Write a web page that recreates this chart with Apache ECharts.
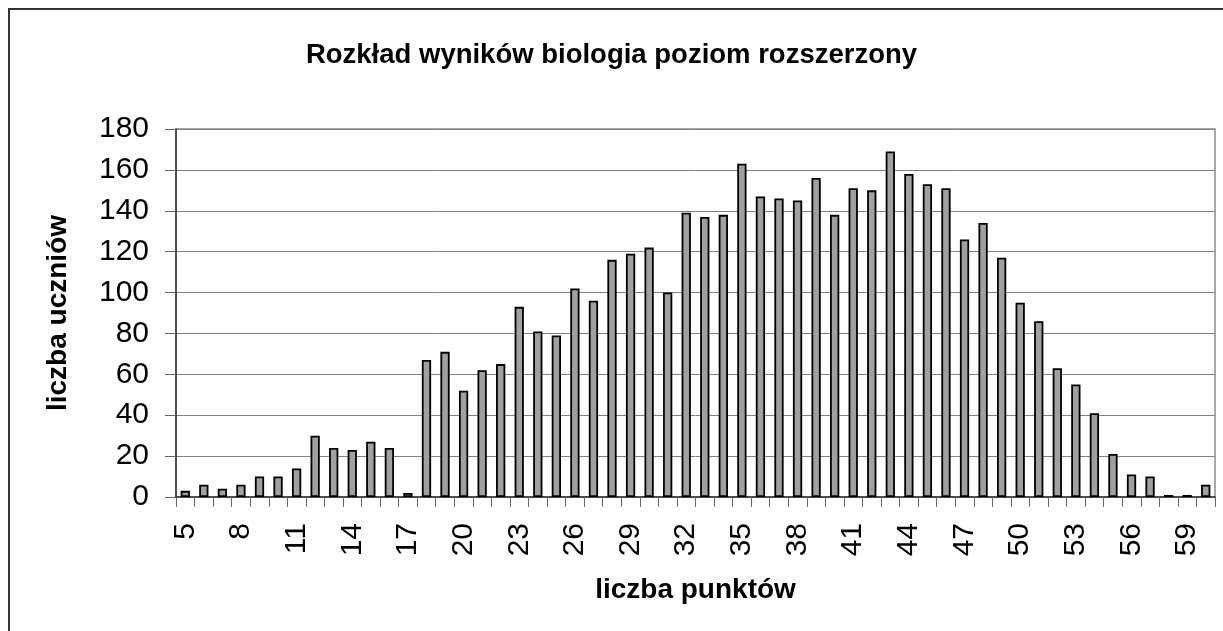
<!DOCTYPE html>
<html>
<head>
<meta charset="utf-8">
<script src="https://cdn.jsdelivr.net/npm/echarts@6/dist/echarts.min.js"></script>
<style>
  html, body { margin: 0; padding: 0; background: #fff; }
  #chart { width: 1223px; height: 631px; }
</style>
</head>
<body>
<div id="chart"></div>
<script>
// score points 5..60
const points = [
  5, 6, 7, 8, 9, 10, 11, 12, 13, 14, 15, 16, 17, 18, 19, 20, 21, 22, 23, 24,
  25, 26, 27, 28, 29, 30, 31, 32, 33, 34, 35, 36, 37, 38, 39, 40, 41, 42, 43, 44,
  45, 46, 47, 48, 49, 50, 51, 52, 53, 54, 55, 56, 57, 58, 59, 60
]
// number of students per score
const students = [
  3, 6, 4, 6, 10, 10, 14, 30, 24, 23, 27, 24, 2, 67, 71, 52, 62, 65, 93, 81,
  79, 102, 96, 116, 119, 122, 100, 139, 137, 138, 163, 147, 146, 145, 156, 138, 151, 150, 169, 158,
  153, 151, 126, 134, 117, 95, 86, 63, 55, 41, 21, 11, 10, 1, 1, 6
]

const font = '"Liberation Sans", Arial, sans-serif'

const chart = echarts.init(document.getElementById('chart'), null, { renderer: 'canvas' })

chart.setOption({
  backgroundColor: '#fff',
  animation: false,
  textStyle: { fontFamily: font },
  title: {
    text: 'Rozkład wyników biologia poziom rozszerzony',
    left: 'center',
    top: 36,
    textStyle: { fontFamily: font, fontSize: 27.5, fontWeight: 'bold', color: '#000' },
  },
  // outer chart frame (right/bottom run off the page like in the source)
  graphic: [{
    type: 'rect',
    shape: { x: 9, y: 9, width: 1400, height: 800 },
    style: { fill: 'none', stroke: '#333', lineWidth: 2 },
    silent: true,
    z: -1,
  }],
  grid: {
    left: 176, right: 8, top: 129, bottom: 134,
    show: true, borderColor: '#8c8c8c', borderWidth: 1.5,
  },
  xAxis: {
    type: 'category',
    data: points,
    name: 'liczba punktów',
    nameLocation: 'middle',
    nameGap: 79,
    nameTextStyle: { fontFamily: font, fontSize: 28, fontWeight: 'bold', color: '#000' },
    axisLine: { lineStyle: { color: '#333', width: 1.5 } },
    axisTick: { show: true, interval: 0, length: 10, lineStyle: { color: '#666', width: 1 } },
    axisLabel: {
      interval: 2, rotate: 90, margin: 26,
      fontFamily: font, fontSize: 30, color: '#000',
    },
  },
  yAxis: {
    type: 'value',
    min: 0, max: 180, interval: 20,
    name: 'liczba uczniów',
    nameLocation: 'middle',
    nameGap: 104,
    nameTextStyle: { fontFamily: font, fontSize: 28, fontWeight: 'bold', color: '#000' },
    axisLine: { show: true, lineStyle: { color: '#333', width: 1.5 } },
    axisTick: { show: true, length: 11, lineStyle: { color: '#666', width: 1 } },
    axisLabel: { margin: 27, fontFamily: font, fontSize: 30, color: '#000' },
    splitLine: { lineStyle: { color: '#808080', width: 1 } },
  },
  series: [{
    type: 'bar',
    data: students,
    barWidth: '50%',
    itemStyle: { color: '#a0a0a0', borderColor: '#000', borderWidth: 1.8 },
  }],
})
</script>
</body>
</html>
